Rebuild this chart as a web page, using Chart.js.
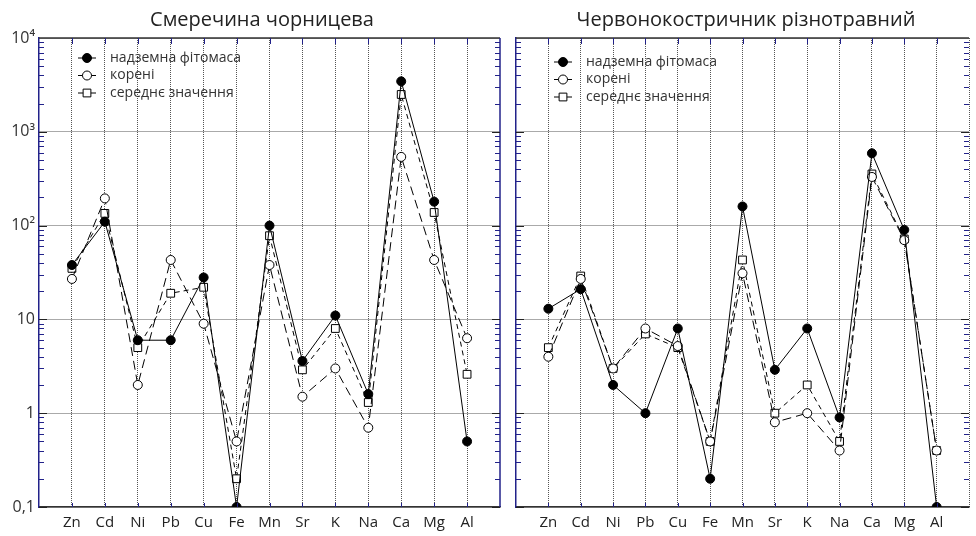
<!DOCTYPE html>
<html>
<head>
<meta charset="utf-8">
<script src="https://cdn.jsdelivr.net/npm/chart.js@4.4.0/dist/chart.umd.min.js"></script>
<style>
html, body { margin: 0; padding: 0; background: #fff; }
#wrap { position: relative; width: 976px; height: 536px; overflow: hidden; }
#c1 { position: absolute; left: 0; top: 0; }
#c2 { position: absolute; left: 509px; top: 0; }
</style>
</head>
<body>
<div id="wrap">
  <canvas id="c1" width="507" height="536"></canvas>
  <canvas id="c2" width="467" height="536"></canvas>
</div>
<script>
// categories and values
var elements = ['Zn', 'Cd', 'Ni', 'Pb', 'Cu', 'Fe', 'Mn', 'Sr', 'K', 'Na', 'Ca', 'Mg', 'Al'];
var seriesNames = ['надземна фітомаса', 'корені', 'середнє значення'];

var spruceShoots = [38, 110, 6, 6, 28, 0.1, 100, 3.6, 11, 1.6, 3450, 180, 0.5];
var spruceRoots  = [27, 195, 2, 43, 9, 0.5, 38, 1.5, 3, 0.7, 540, 43, 6.3];
var spruceMean   = [35, 135, 5, 19, 22, 0.2, 78, 2.9, 8, 1.3, 2500, 138, 2.6];

var grassShoots = [13, 21, 2, 1, 8, 0.2, 160, 2.9, 8, 0.9, 590, 90, 0.1];
var grassRoots  = [4, 27, 3, 8, 5.2, 0.5, 31, 0.8, 1, 0.4, 330, 70, 0.4];
var grassMean   = [5, 29, 3, 7, 5, 0.5, 43, 1, 2, 0.5, 355, 72, 0.4];

var yTickLabels = {'0.1': '0,1', '1': '1', '10': '10', '100': '10²', '1000': '10³', '10000': '10⁴'};

var navy = '#22228a';
var gridColor = '#555';

function isDecade(v) {
    var l = Math.log10(v);
    return Math.abs(l - Math.round(l)) < 1e-9;
}

// title, axis frame, inner ticks and legend inside the plot
var framePlugin = {
    id: 'frame',
    afterDraw: function(chart, args, o) {
        var ctx = chart.ctx;
        var a = chart.chartArea;
        var xs = chart.scales.x, ys = chart.scales.y;
        ctx.save();
        // title
        ctx.fillStyle = '#222';
        ctx.font = '20px "Open Sans"';
        ctx.textAlign = 'center';
        ctx.textBaseline = 'middle';
        ctx.fillText(o.title, o.titleX, 20);
        // top border
        ctx.strokeStyle = '#333';
        ctx.lineWidth = 1.5;
        ctx.beginPath();
        ctx.moveTo(a.left, a.top); ctx.lineTo(a.right, a.top);
        ctx.stroke();
        // right border
        if (o.rightBorder) {
            ctx.strokeStyle = navy;
            ctx.beginPath();
            ctx.moveTo(a.right, a.top); ctx.lineTo(a.right, a.bottom);
            ctx.stroke();
        }
        // minor / major ticks on left and right
        ctx.lineWidth = 1;
        for (var n = -1; n <= 3; n++) {
            for (var k = 1; k <= 9; k++) {
                var v = k * Math.pow(10, n);
                var y = Math.round(ys.getPixelForValue(v)) + 0.5;
                var len = k === 1 ? 8 : 5;
                ctx.strokeStyle = k === 1 ? '#222' : navy;
                ctx.beginPath();
                ctx.moveTo(a.left, y); ctx.lineTo(a.left + len, y);
                ctx.moveTo(a.right, y); ctx.lineTo(a.right - len, y);
                ctx.stroke();
            }
        }
        // category ticks top and bottom
        ctx.strokeStyle = navy;
        for (var i = 0; i < elements.length; i++) {
            var x = Math.round(xs.getPixelForValue(i + 1)) + 0.5;
            ctx.beginPath();
            ctx.moveTo(x, a.top); ctx.lineTo(x, a.top + 6);
            ctx.moveTo(x, a.bottom); ctx.lineTo(x, a.bottom - 4);
            ctx.stroke();
        }
        // legend
        var lx = a.left + o.legendX, ly = a.top + o.legendY;
        chart.data.datasets.forEach(function(ds, j) {
            var yy = ly + j * 17.5;
            ctx.strokeStyle = '#000';
            ctx.lineWidth = 1;
            ctx.setLineDash([]);
            ctx.beginPath();
            ctx.moveTo(lx - 9, yy); ctx.lineTo(lx + 9, yy);
            ctx.stroke();
            ctx.fillStyle = ds.pointBackgroundColor;
            Chart.helpers.drawPoint(ctx, {
                pointStyle: ds.pointStyle, radius: ds.pointRadius, rotation: 0, borderWidth: 1
            }, lx, yy);
            ctx.fillStyle = '#333';
            ctx.font = '14px "Open Sans"';
            ctx.textBaseline = 'middle';
            ctx.textAlign = 'left';
            ctx.fillText(ds.label, lx + 23, yy);
        });
        ctx.restore();
    }
};

function makeDatasets(shoots, roots, mean) {
    function pts(vals) {
        return vals.map(function(v, i) { return {x: elements[i], y: v}; });
    }
    return [{
        label: seriesNames[0],
        data: pts(shoots),
        borderColor: '#000',
        borderWidth: 1,
        pointStyle: 'circle',
        pointRadius: 4.5,
        pointBackgroundColor: '#000',
        pointBorderColor: '#000'
    }, {
        label: seriesNames[1],
        data: pts(roots),
        borderColor: '#000',
        borderWidth: 1,
        borderDash: [9, 5],
        pointStyle: 'circle',
        pointRadius: 4.5,
        pointBackgroundColor: '#fff',
        pointBorderColor: '#000'
    }, {
        label: seriesNames[2],
        data: pts(mean),
        borderColor: '#000',
        borderWidth: 1,
        borderDash: [5, 4],
        pointStyle: 'rect',
        pointRadius: 5.5,
        pointBackgroundColor: '#fff',
        pointBorderColor: '#000'
    }];
}

function makeChart(id, title, titleX, datasets, showY, yWidth, legendX, legendY, rightPad, rightBorder) {
    var ctx = document.getElementById(id).getContext('2d');
    var last = elements.length + 1;
    return new Chart(ctx, {
        type: 'line',
        data: {
            labels: [''].concat(elements, ['']),
            datasets: datasets
        },
        options: {
            responsive: false,
            animation: false,
            layout: {padding: {left: 0, right: rightPad, top: 38, bottom: 0}},
            plugins: {
                legend: {display: false},
                tooltip: {enabled: false},
                title: {display: false},
                frame: {title: title, titleX: titleX, legendX: legendX, legendY: legendY, rightBorder: rightBorder}
            },
            scales: {
                x: {
                    type: 'category',
                    offset: false,
                    afterFit: function(s) { s.height = 29; },
                    grid: {
                        drawTicks: false,
                        color: function(c) {
                            if (c.index === 0) return 'rgba(0,0,0,0)';
                            if (c.index === last && rightBorder) return 'rgba(0,0,0,0)';
                            return gridColor;
                        }
                    },
                    border: {display: true, color: '#333', width: 1.5, dash: [1, 1]},
                    ticks: {
                        color: '#222',
                        font: {family: 'Open Sans', size: 15},
                        padding: 7,
                        autoSkip: false,
                        maxRotation: 0
                    }
                },
                y: {
                    type: 'logarithmic',
                    min: 0.1,
                    max: 10000,
                    afterFit: function(s) { s.width = yWidth; },
                    grid: {
                        drawTicks: false,
                        color: function(c) {
                            return (c.tick && isDecade(c.tick.value)) ? gridColor : 'rgba(0,0,0,0)';
                        }
                    },
                    border: {display: true, color: navy, width: 1.5, dash: [1, 1]},
                    ticks: {
                        display: showY,
                        autoSkip: false,
                        color: '#333',
                        font: {family: 'Open Sans', size: 16},
                        padding: 4,
                        callback: function(v) {
                            return isDecade(v) ? yTickLabels[String(v)] || '' : '';
                        }
                    }
                }
            }
        },
        plugins: [framePlugin]
    });
}

makeChart('c1', 'Смеречина чорницева', 262,
    makeDatasets(spruceShoots, spruceRoots, spruceMean), true, 39, 48, 20, 1, true);
makeChart('c2', 'Червонокостричник різнотравний', 237,
    makeDatasets(grassShoots, grassRoots, grassMean), false, 2, 47, 24, 0, false);
</script>
</body>
</html>
